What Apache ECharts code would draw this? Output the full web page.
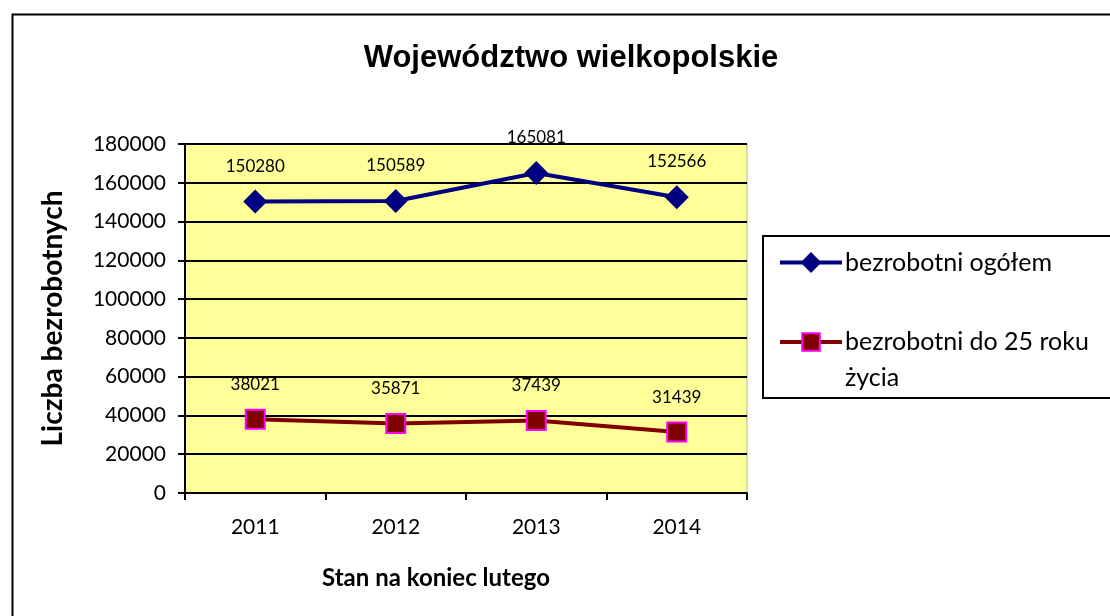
<!DOCTYPE html>
<html>
<head>
<meta charset="utf-8">
<script src="https://cdn.jsdelivr.net/npm/echarts@6/dist/echarts.min.js"></script>
<style>
  html, body { margin: 0; padding: 0; background: #fff; }
  #chart { width: 1110px; height: 616px; }
</style>
</head>
<body>
<div id="chart"></div>
<script>
// dane
const lata = ["2011", "2012", "2013", "2014"];
const ogolem = [150280, 150589, 165081, 152566];
const do25 = [38021, 35871, 37439, 31439];
const nazwaOgolem = "bezrobotni ogółem";
const nazwaDo25 = "bezrobotni do 25 roku życia";

var dom = document.getElementById("chart");
var myChart = echarts.init(dom);

const font = "Lato, 'Open Sans', sans-serif";

var option = {
    animation: false,
    backgroundColor: "#fff",
    title: {
        text: "Województwo wielkopolskie",
        left: 566,
        top: 38,
        textAlign: "center",
        textStyle: { fontFamily: "'Liberation Sans', Arial, sans-serif", fontWeight: "bold", fontSize: 31, color: "#000" }
    },
    graphic: [
        // ramka wykresu
        { type: "rect", left: 10, top: 12, shape: { width: 1120, height: 620 }, style: { fill: null, stroke: "#000", lineWidth: 2 }, silent: true, z: 0 },
        // ramka legendy
        { type: "rect", left: 762, top: 235, shape: { width: 380, height: 162 }, style: { fill: "#fff", stroke: "#000", lineWidth: 2 }, silent: true, z: 0 }
    ],
    legend: [
        {
            data: [nazwaOgolem],
            left: 773,
            top: 245,
            itemWidth: 62,
            itemHeight: 26,
            lineStyle: { width: 4 },
            textStyle: { fontFamily: font, fontSize: 25, color: "#000", padding: [0, 0, 0, -2] }
        },
        {
            data: [nazwaDo25],
            left: 773,
            top: 283,
            itemWidth: 62,
            itemHeight: 22,
            lineStyle: { width: 4 },
            formatter: function () { return " \nbezrobotni do 25 roku\nżycia"; },
            textStyle: { fontFamily: font, fontSize: 25, lineHeight: 36, color: "#000", padding: [0, 0, 0, -2] }
        }
    ],
    grid: {
        left: 185,
        top: 144,
        width: 562,
        height: 349,
        show: true,
        backgroundColor: "#FFFF99",
        borderColor: "#b8b890",
        borderWidth: 1
    },
    xAxis: {
        type: "category",
        data: lata,
        boundaryGap: true,
        name: "Stan na koniec lutego",
        nameLocation: "middle",
        nameGap: 73,
        nameTextStyle: { fontFamily: font, fontWeight: "bold", fontSize: 24, color: "#000", padding: [0, 60, 0, 0] },
        axisLine: { lineStyle: { color: "#000", width: 2 } },
        axisTick: { show: true, inside: false, length: 7, lineStyle: { color: "#000", width: 2 } },
        axisLabel: { fontFamily: font, fontSize: 21, color: "#000", margin: 24 }
    },
    yAxis: {
        type: "value",
        min: 0,
        max: 180000,
        interval: 20000,
        name: "Liczba bezrobotnych",
        nameLocation: "middle",
        nameGap: 118,
        nameTextStyle: { fontFamily: font, fontWeight: "bold", fontSize: 28, color: "#000" },
        axisLine: { show: true, lineStyle: { color: "#000", width: 2 } },
        axisTick: { show: true, inside: false, length: 7, lineStyle: { color: "#000", width: 2 } },
        axisLabel: { fontFamily: font, fontSize: 21, color: "#000", margin: 19, formatter: function (v) { return String(v); } },
        splitLine: { show: true, lineStyle: { color: "#000", width: 2 } }
    },
    series: [
        {
            name: nazwaOgolem,
            type: "line",
            data: ogolem,
            symbol: "diamond",
            symbolSize: 24,
            itemStyle: { color: "#000080" },
            lineStyle: { color: "#000080", width: 4 },
            label: {
                show: true,
                position: "top",
                distance: 15,
                fontFamily: font,
                fontSize: 17,
                color: "#000"
            }
        },
        {
            name: nazwaDo25,
            type: "line",
            data: do25,
            symbol: "rect",
            symbolSize: 19,
            itemStyle: { color: "#800000", borderColor: "#FF00FF", borderWidth: 2 },
            lineStyle: { color: "#800000", width: 4 },
            label: {
                show: true,
                position: "top",
                distance: 16,
                fontFamily: font,
                fontSize: 17,
                color: "#000"
            }
        }
    ]
};

option && "object" == typeof option && myChart.setOption(option, !0);
</script>
</body>
</html>
